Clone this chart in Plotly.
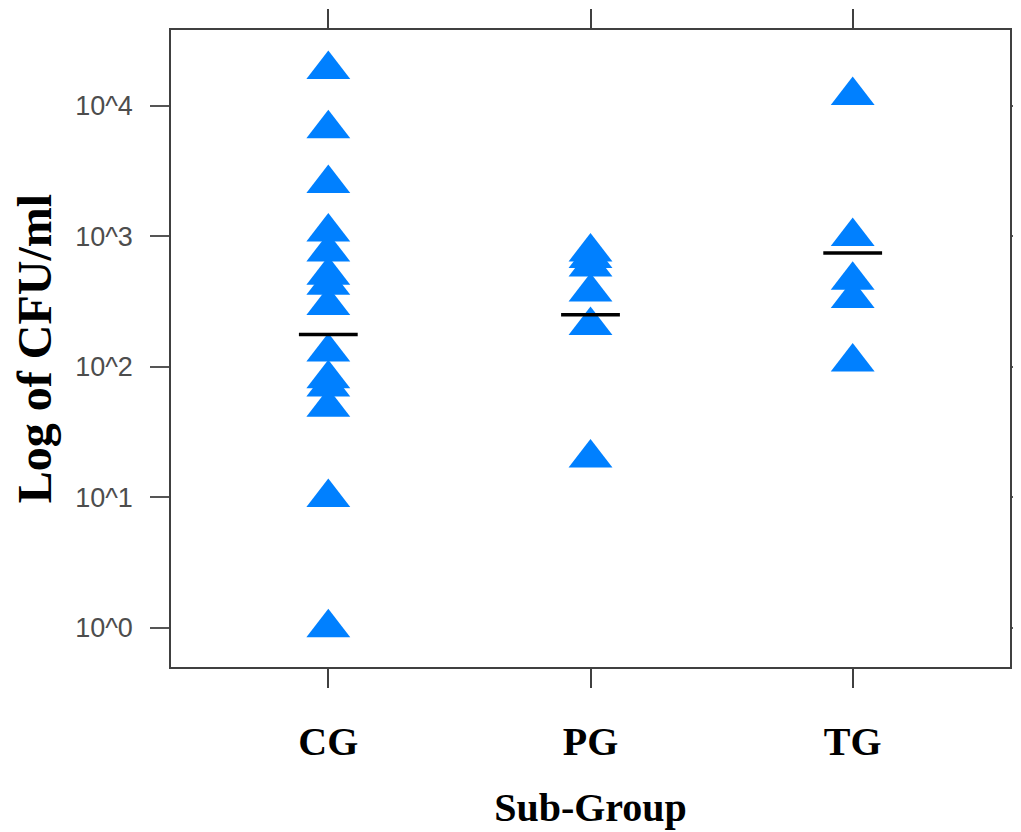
import plotly.graph_objects as go

groups = ["CG", "PG", "TG"]
cg_values = [19000, 6700, 2540, 1080, 761, 504, 422, 296, 130, 81, 70, 49, 10, 1]
pg_values = [760, 676, 583, 375, 208, 20]
tg_values = [12000, 1000, 461, 334, 109]
median_values = [177, 251, 745]
ytick_vals = [1, 10, 100, 1000, 10000]
ytick_text = ["10^0", "10^1", "10^2", "10^3", "10^4"]

xs, ys = [], []
for g, vals in zip(groups, [cg_values, pg_values, tg_values]):
    xs += [g] * len(vals)
    ys += vals

fig = go.Figure()
fig.add_trace(go.Scatter(
    x=xs, y=ys, mode="markers",
    marker=dict(symbol="triangle-up", size=38, color="#0080ff", line=dict(width=0)),
    showlegend=False, hoverinfo="skip",
))
fig.add_trace(go.Scatter(
    x=groups, y=median_values, mode="markers",
    marker=dict(symbol="line-ew", size=42, color="black",
                line=dict(width=3.5, color="black")),
    showlegend=False, hoverinfo="skip",
))

serif = "Liberation Serif, Times New Roman, serif"
fig.update_layout(
    width=1013, height=824,
    margin=dict(l=163, r=11, t=22, b=165),
    paper_bgcolor="white", plot_bgcolor="white",
    xaxis=dict(
        type="category", categoryorder="array", categoryarray=groups,
        range=[-0.6, 2.6], automargin=False,
        showline=True, linecolor="#404040", linewidth=1.5, mirror="ticks",
        ticks="outside", ticklen=19, tickwidth=1.5, tickcolor="#404040",
        showgrid=False, zeroline=False,
        tickfont=dict(family=serif, size=40, color="black", weight="bold"),
        ticklabelstandoff=19,
        title=dict(text="<b>Sub-Group</b>", font=dict(family=serif, size=40, color="black"), standoff=30),
    ),
    yaxis=dict(
        type="log", range=[-0.3, 4.582], automargin=False,
        tickvals=ytick_vals, ticktext=ytick_text,
        showline=True, linecolor="#404040", linewidth=1.5, mirror="ticks",
        ticks="outside", ticklen=19, tickwidth=1.5, tickcolor="#555555",
        showgrid=False, zeroline=False,
        tickfont=dict(family="Liberation Sans, Arial, sans-serif", size=27, color="#4d4d4d"),
        ticklabelstandoff=12,
        title=dict(text="<b>Log of CFU/ml</b>", font=dict(family=serif, size=48, color="black"), standoff=14),
    ),
)

fig.write_html("out.html")
